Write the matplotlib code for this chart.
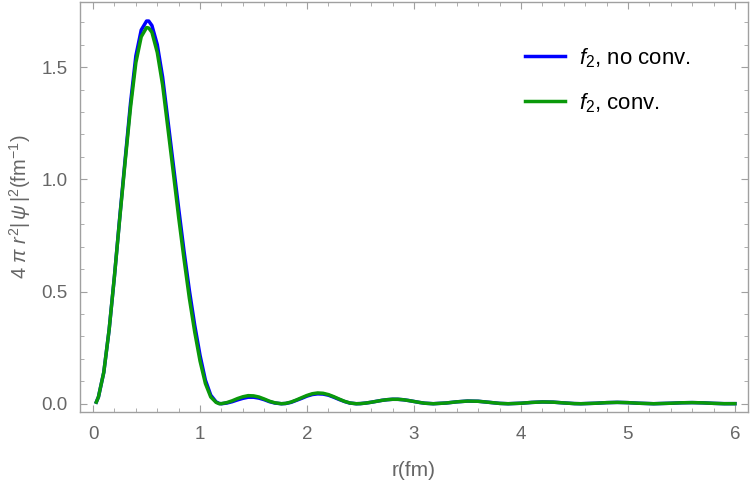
import matplotlib
matplotlib.use("Agg")
import matplotlib.pyplot as plt
from matplotlib.ticker import MultipleLocator

plt.rcParams['font.family'] = ['Liberation Sans', 'DejaVu Sans']
plt.rcParams['mathtext.fontset'] = 'custom'
plt.rcParams['mathtext.rm'] = 'Liberation Sans'
plt.rcParams['mathtext.it'] = 'Liberation Sans:italic'

# r grid (fm)
r_peak = [0.03, 0.05, 0.10, 0.15, 0.20, 0.25, 0.30, 0.35, 0.40, 0.45, 0.50, 0.52, 0.55,
          0.60, 0.65, 0.70, 0.75, 0.80, 0.85, 0.90, 0.95, 1.00, 1.05, 1.10, 1.15, 1.18]
r_bump1 = [1.20, 1.25, 1.30, 1.35, 1.40, 1.45, 1.50, 1.55, 1.60, 1.65, 1.70, 1.76]
r_bump2 = [1.80, 1.85, 1.90, 1.95, 2.00, 2.05, 2.10, 2.15, 2.20, 2.25, 2.30, 2.35, 2.40, 2.46]
r_bump3 = [2.50, 2.55, 2.60, 2.65, 2.70, 2.75, 2.80, 2.85, 2.90, 2.95, 3.00, 3.05, 3.10, 3.18]
r_tail = [3.3, 3.4, 3.5, 3.6, 3.7, 3.8, 3.88, 4.0, 4.1, 4.2, 4.3, 4.4, 4.5, 4.56,
          4.7, 4.8, 4.9, 5.0, 5.1, 5.24, 5.4, 5.5, 5.6, 5.7, 5.8, 5.9, 6.0]

# f2, no conv. (blue)
blue_peak = [0.007, 0.03, 0.14, 0.33, 0.57, 0.835, 1.09, 1.34, 1.55, 1.665, 1.705, 1.705, 1.685,
             1.60, 1.455, 1.26, 1.065, 0.87, 0.68, 0.505, 0.35, 0.215, 0.105, 0.038, 0.008, 0.001]
blue_bump1 = [0.0, 0.003, 0.009, 0.017, 0.024, 0.029, 0.029, 0.025, 0.018, 0.009, 0.003, 0.0]
blue_bump2 = [0.001, 0.006, 0.015, 0.024, 0.034, 0.041, 0.044, 0.043, 0.038, 0.029, 0.019, 0.010, 0.003, 0.0]

# f2, conv. (green)
green_peak = [0.007, 0.03, 0.14, 0.33, 0.57, 0.83, 1.08, 1.32, 1.52, 1.635, 1.676, 1.674, 1.655,
              1.565, 1.42, 1.225, 1.03, 0.83, 0.645, 0.47, 0.32, 0.19, 0.09, 0.03, 0.006, 0.0]
green_bump1 = [0.0004, 0.005, 0.013, 0.023, 0.031, 0.036, 0.035, 0.030, 0.021, 0.011, 0.004, 0.0]
green_bump2 = [0.0015, 0.0074, 0.0166, 0.027, 0.037, 0.0446, 0.048, 0.0465, 0.0406, 0.0314,
               0.0208, 0.0107, 0.0034, 0.0]

# both curves agree beyond r ~ 2.5
shared_bump3 = [0.0006, 0.003, 0.0066, 0.0108, 0.015, 0.018, 0.0198, 0.0197, 0.0177, 0.0142,
                0.010, 0.0058, 0.0023, 0.0]
shared_tail = [0.0032, 0.0084, 0.0118, 0.0109, 0.0063, 0.0015, 0.0, 0.0022, 0.0058, 0.0079,
               0.007, 0.0036, 0.0006, 0.0, 0.0022, 0.0048, 0.006, 0.0048, 0.0022, 0.0,
               0.0022, 0.0042, 0.005, 0.0039, 0.0017, 0.0002, 0.0003]

r = r_peak + r_bump1 + r_bump2 + r_bump3 + r_tail
y_blue = blue_peak + blue_bump1 + blue_bump2 + shared_bump3 + shared_tail
y_green = green_peak + green_bump1 + green_bump2 + shared_bump3 + shared_tail

frame_col = '#a0a0a0'
text_col = '#666666'

fig = plt.figure(figsize=(7.5, 4.92), dpi=100)
ax = fig.add_axes([0.107, 0.163, 0.890, 0.833])

ax.plot(r, y_blue, color='#0000ff', lw=2.5, label=r'$f_2$, no conv.')
ax.plot(r, y_green, color='#0a990a', lw=2.5, label=r'$f_2$, conv.')

ax.set_xlim(-0.12, 6.12)
ax.set_ylim(-0.036, 1.79)

ax.xaxis.set_major_locator(MultipleLocator(1))
ax.xaxis.set_minor_locator(MultipleLocator(0.2))
ax.yaxis.set_minor_locator(MultipleLocator(0.1))
ax.set_yticks([0, 0.5, 1.0, 1.5])
ax.set_yticklabels(['0.0', '0.5', '1.0', '1.5'])

for s in ax.spines.values():
    s.set_color(frame_col)
    s.set_linewidth(1.0)

ax.tick_params(which='both', direction='in', top=True, right=True, color=frame_col,
               labelcolor=text_col, labelsize=13.5)
ax.tick_params(which='major', length=5, width=0.8)
ax.tick_params(which='minor', length=3, width=0.6)
ax.tick_params(axis='x', pad=10)
ax.tick_params(axis='y', pad=9)

ax.set_xlabel('r(fm)', color=text_col, fontsize=15, labelpad=13)
ax.set_ylabel(r'$4\ \pi\ r^2|\,\psi\,|^2$(fm$^{-1}$)', color=text_col, fontsize=14.5, labelpad=6)

ax.legend(loc='upper left', bbox_to_anchor=(0.666, 0.892), frameon=False, fontsize=16,
          handlelength=1.8, handletextpad=0.65, labelspacing=0.95, borderpad=0, borderaxespad=0)

fig.savefig('out.png', dpi=100)
